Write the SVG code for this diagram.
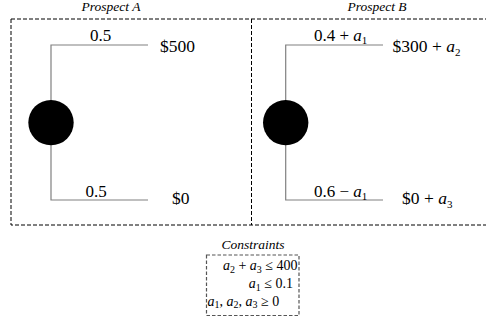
<svg xmlns="http://www.w3.org/2000/svg" width="486" height="326" viewBox="0 0 486 326">
<style>
text{font-family:"Liberation Serif","DejaVu Serif",serif;fill:#000}
.title{font-size:13.5px;font-style:italic}
.lbl{font-size:17px}
.out{font-size:17.5px}
.i{font-style:italic}
.sub{font-size:11px}
.csub{font-size:10px}
.con{font-size:14px}
.box{fill:none;stroke:#000;stroke-width:1;stroke-dasharray:4 2}
.cbox{fill:none;stroke:#555;stroke-width:1.2;stroke-dasharray:3.5 2}
.br{fill:none;stroke:#808080;stroke-width:1.2}
</style>
<rect width="486" height="326" fill="#fff"/>
<g id="frame">
<path class="box" d="M11 19 H490 M11 19 V225 H490 M251.5 19 V225"/>
</g>
<g id="titles">
<text class="title" x="111" y="11" text-anchor="middle">Prospect A</text>
<text class="title" x="377" y="11" text-anchor="middle">Prospect B</text>
</g>
<g id="connectors">
<path class="br" d="M148 45 H51 V200 H148"/>
<path class="br" d="M383 45 H285.7 V200 H383"/>
</g>
<g id="nodeA">
<circle cx="51" cy="122.6" r="22.7" fill="#000"/>
<text class="lbl" x="100.5" y="41" text-anchor="middle">0.5</text>
<text class="out" x="160" y="52">$500</text>
<text class="lbl" x="96" y="197" text-anchor="middle">0.5</text>
<text class="out" x="172" y="204">$0</text>
</g>
<g id="nodeB">
<circle cx="285.7" cy="122.6" r="22.7" fill="#000"/>
<text class="lbl" x="314" y="41">0.4 + <tspan class="i">a</tspan><tspan class="sub" dy="3">1</tspan></text>
<text class="out" x="392.5" y="52">$300 + <tspan class="i">a</tspan><tspan class="sub" dy="3.5">2</tspan></text>
<text class="lbl" x="314" y="197">0.6 − <tspan class="i">a</tspan><tspan class="sub" dy="3">1</tspan></text>
<text class="out" x="402" y="204">$0 + <tspan class="i">a</tspan><tspan class="sub" dy="3.5">3</tspan></text>
</g>
<g id="constraints">
<text class="title" x="253" y="249" text-anchor="middle">Constraints</text>
<rect class="cbox" x="206.5" y="255" width="92.5" height="60.5"/>
<text class="con" x="297.5" y="270" text-anchor="end"><tspan class="i">a</tspan><tspan class="csub" dy="2.5">2</tspan><tspan dy="-2.5"> + </tspan><tspan class="i">a</tspan><tspan class="csub" dy="2.5">3</tspan><tspan dy="-2.5"> ≤ 400</tspan></text>
<text class="con" x="293" y="288" text-anchor="end"><tspan class="i">a</tspan><tspan class="csub" dy="2.5">1</tspan><tspan dy="-2.5"> ≤ 0.1</tspan></text>
<text class="con" x="207.5" y="305.5"><tspan class="i">a</tspan><tspan class="csub" dy="2.5">1</tspan><tspan dy="-2.5">, </tspan><tspan class="i">a</tspan><tspan class="csub" dy="2.5">2</tspan><tspan dy="-2.5">, </tspan><tspan class="i">a</tspan><tspan class="csub" dy="2.5">3</tspan><tspan dy="-2.5"> ≥ 0</tspan></text>
</g>
</svg>
